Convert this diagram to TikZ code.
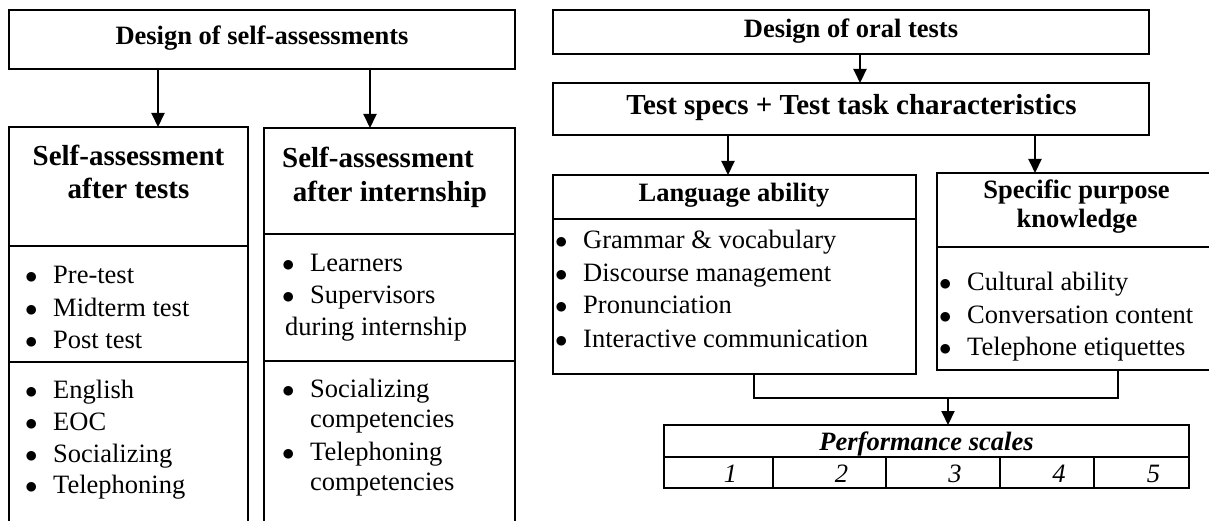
\documentclass[tikz,border=0pt]{standalone}
\usepackage{fontspec}
\setmainfont{Liberation Serif}
\usetikzlibrary{arrows.meta, positioning, calc}

\newcommand{\itembul}{\makebox[28pt][l]{$\bullet$}}

\begin{document}
\begin{tikzpicture}[
    x=1pt, y=-1pt,
    box/.style={draw, line width=2pt, inner sep=0pt, outer sep=0pt},
    head/.style={inner sep=0pt, anchor=base, font=\fontsize{29}{33}\selectfont\bfseries},
    subhead/.style={inner sep=0pt, anchor=base, font=\fontsize{26.5}{30}\selectfont\bfseries},
    item/.style={inner sep=0pt, anchor=base west, font=\fontsize{26.5}{30}\selectfont},
    arrow/.style={line width=2pt, -{Triangle[length=14pt, width=13pt]}},
    link/.style={line width=2pt},
]
    \useasboundingbox (0,0) rectangle (1209,521);
    \clip (0,0) rectangle (1209,521);

    % self-assessment side
    \node[box, minimum width=506pt, minimum height=59pt] (designSA) at (262,39.5) {};
    \node[subhead] (designSAtxt) at (262,45) {Design of self-assessments};

    \node[box, minimum width=239pt, minimum height=119pt] (satHead) at (128.5,186.5) {};
    \node[box, minimum width=239pt, minimum height=116pt] (satTests) at (128.5,304) {};
    \node[box, minimum width=239pt, minimum height=178pt] (satSkills) at (128.5,451) {};
    \node[head] (satTitle1) at (128.5,165.5) {Self-assessment};
    \node[head] (satTitle2) at (128.5,199) {after tests};
    \foreach \txt/\y [count=\i] in {Pre-test/283, Midterm test/316, Post test/348}
        \node[item] (tests\i) at (25,\y) {\itembul\txt};
    \foreach \txt/\y [count=\i] in {English/398, EOC/430, Socializing/462, Telephoning/493}
        \node[item] (skills\i) at (25,\y) {\itembul\txt};

    \node[box, minimum width=251pt, minimum height=106pt] (sainHead) at (389.5,181) {};
    \node[box, minimum width=251pt, minimum height=127pt] (sainWho) at (389.5,297.5) {};
    \node[box, minimum width=251pt, minimum height=179pt] (sainSkills) at (389.5,450.5) {};
    \node[head] (sainTitle1) at (378,167.5) {Self-assessment};
    \node[head] (sainTitle2) at (390,201.5) {after internship};
    \node[item] (who1) at (282,272) {\itembul Learners};
    \node[item] (who2) at (282,303) {\itembul Supervisors};
    \node[item] (who3) at (285,335) {during internship};
    \node[item] (comp1) at (282,397) {\itembul Socializing};
    \node[item] (comp1b) at (310,427) {competencies};
    \node[item] (comp2) at (282,460) {\itembul Telephoning};
    \node[item] (comp2b) at (310,490) {competencies};

    \coordinate (saL) at (158,0);
    \coordinate (saR) at (370,0);
    \draw[arrow] (designSA.south -| saL) -- (satHead.north -| saL);
    \draw[arrow] (designSA.south -| saR) -- (sainHead.north -| saR);

    % oral test side
    \node[box, minimum width=596pt, minimum height=44pt] (oral) at (851,32) {};
    \node[subhead] (oraltxt) at (851,38) {Design of oral tests};
    \node[box, minimum width=596pt, minimum height=52pt] (specs) at (851,109) {};
    \node[head] (specstxt) at (851.5,115) {Test specs + Test task characteristics};

    \node[box, minimum width=363pt, minimum height=44pt] (langHead) at (734.5,197) {};
    \node[box, minimum width=363pt, minimum height=155pt] (langList) at (734.5,296.5) {};
    \node[subhead] (langtxt) at (734,202) {Language ability};
    \foreach \txt/\y [count=\i] in {Grammar \& vocabulary/248, Discourse management/281,
                                    Pronunciation/313, Interactive communication/347}
        \node[item] (lang\i) at (555,\y) {\itembul\txt};

    \node[box, minimum width=279pt, minimum height=74pt] (spkHead) at (1076.5,210) {};
    \node[box, minimum width=279pt, minimum height=123pt] (spkList) at (1076.5,308.5) {};
    \node[subhead] (spktxt1) at (1076.5,198.5) {Specific purpose};
    \node[subhead] (spktxt2) at (1077,227.5) {knowledge};
    \foreach \txt/\y [count=\i] in {Cultural ability/290, Conversation content/323, Telephone etiquettes/355}
        \node[item] (spk\i) at (939,\y) {\itembul\txt};

    % performance scales table
    \node[box, minimum width=525pt, minimum height=32pt] (scales) at (926.5,441) {};
    \node[subhead, font=\fontsize{26.5}{30}\selectfont\bfseries\itshape] (scalestxt) at (926.5,450) {Performance scales};
    \foreach \l/\r/\val [count=\i] in {664/773/1, 773/886/2, 886/1000/3, 1000/1094/4, 1094/1189/5} {
        \node[box, minimum width={(\r-\l)*1pt}, minimum height=31pt] (cell\i) at ({(\l+\r)/2},472.5) {};
        \node[item, anchor=base, font=\fontsize{26.5}{30}\selectfont\itshape] (val\i) at ({(\l+\r)/2+12},482) {\val};
    }

    \coordinate (oralX) at (860,0);
    \coordinate (langX) at (728,0);
    \coordinate (spkX) at (1035,0);
    \coordinate (langOut) at (754,0);
    \coordinate (spkOut) at (1118,0);
    \coordinate (join) at (948,398);
    \draw[arrow] (oral.south -| oralX) -- (specs.north -| oralX);
    \draw[arrow] (specs.south -| langX) -- (langHead.north -| langX);
    \draw[arrow] (specs.south -| spkX) -- (spkHead.north -| spkX);
    \draw[link] (langList.south -| langOut) |- (join) -| (spkList.south -| spkOut);
    \draw[arrow] (join) -- (scales.north -| join);
\end{tikzpicture}
\end{document}
